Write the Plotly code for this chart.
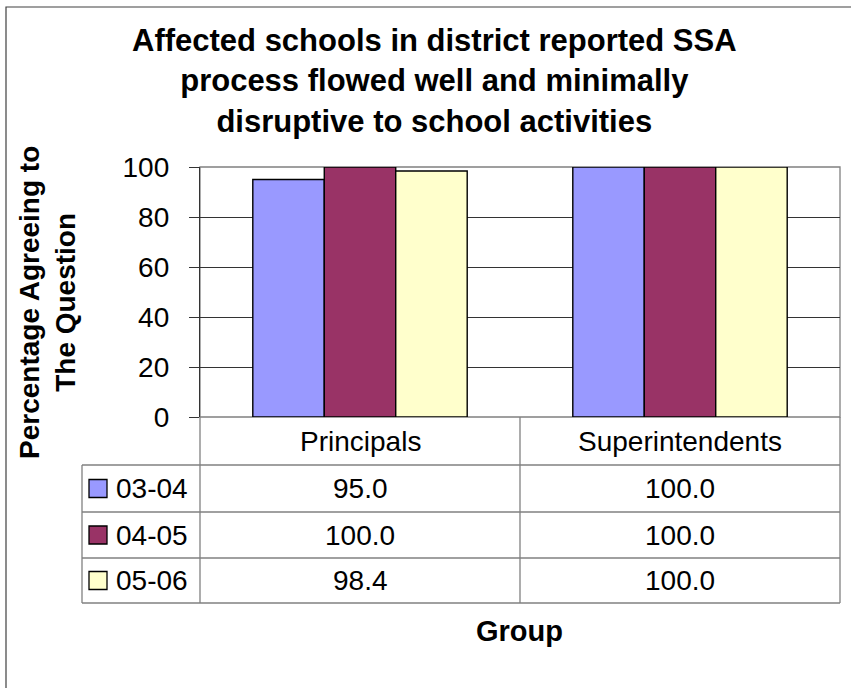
import plotly.graph_objects as go

# ---- data ----
categories = ["Principals", "Superintendents"]
series_names = ["03-04", "04-05", "05-06"]
values_0304 = [95.0, 100.0]
values_0405 = [100.0, 100.0]
values_0506 = [98.4, 100.0]
series_colors = ["#9999FF", "#993366", "#FFFFCC"]
y_ticks = [0, 20, 40, 60, 80, 100]

title_text = ("Affected schools in district reported SSA<br>"
              "process flowed well and minimally<br>"
              "disruptive to school activities")
y_title = "Percentage Agreeing to<br>The Question"
x_title = "Group"

W, H = 851, 688
L, R, T, B = 200, 840, 167, 417  # plot area in pixels
FONT = "Liberation Sans, Arial, sans-serif"
FS = 28


def px(xp):
    return (xp - L) / (R - L)


def py(yp):
    return (B - yp) / (B - T)


all_values = [values_0304, values_0405, values_0506]

fig = go.Figure()
for name, vals, col in zip(series_names, all_values, series_colors):
    fig.add_trace(go.Bar(
        x=categories, y=vals, name=name,
        marker=dict(color=col, line=dict(color="black", width=1.4)),
        showlegend=False,
    ))

shapes = []
annotations = []

# outer chart border
shapes.append(dict(type="rect", xref="paper", yref="paper",
                   x0=px(6), x1=px(870), y0=py(700), y1=py(7),
                   line=dict(color="#404040", width=1.2), layer="below"))
# plot area border (top/right gray)
shapes.append(dict(type="rect", xref="paper", yref="paper",
                   x0=0, x1=1, y0=0, y1=1,
                   line=dict(color="#808080", width=1.3), layer="below"))

# table
row_edges = [417, 465, 512, 558, 603]
grey = "#808080"
for ye in row_edges[1:]:
    shapes.append(dict(type="line", xref="paper", yref="paper",
                       x0=px(82), x1=1, y0=py(ye), y1=py(ye),
                       line=dict(color=grey, width=1.3)))
shapes.append(dict(type="line", xref="paper", yref="paper",
                   x0=px(82), x1=px(82), y0=py(row_edges[1]), y1=py(row_edges[-1]),
                   line=dict(color=grey, width=1.3)))
shapes.append(dict(type="line", xref="paper", yref="paper",
                   x0=0, x1=0, y0=py(row_edges[0]), y1=py(row_edges[-1]),
                   line=dict(color=grey, width=1.3)))
shapes.append(dict(type="line", xref="x", yref="paper",
                   x0=0.5, x1=0.5, y0=py(row_edges[0]), y1=py(row_edges[-1]),
                   line=dict(color=grey, width=1.3)))
shapes.append(dict(type="line", xref="paper", yref="paper",
                   x0=1, x1=1, y0=py(row_edges[0]), y1=py(row_edges[-1]),
                   line=dict(color=grey, width=1.3)))

# header: category names
hy = (row_edges[0] + row_edges[1]) / 2
for c in categories:
    annotations.append(dict(x=c, y=py(hy), xref="x", yref="paper",
                            text=c, showarrow=False,
                            font=dict(family=FONT, size=FS, color="black"),
                            xanchor="center", yanchor="middle"))

# data rows
for i, (name, vals, col) in enumerate(zip(series_names, all_values, series_colors)):
    cy = (row_edges[i + 1] + row_edges[i + 2]) / 2
    shapes.append(dict(type="rect", xref="paper", yref="paper",
                       x0=px(89), x1=px(107), y0=py(cy + 9), y1=py(cy - 9),
                       fillcolor=col, line=dict(color="black", width=1.3)))
    annotations.append(dict(x=px(114), y=py(cy), xref="paper", yref="paper",
                            text=name, showarrow=False,
                            font=dict(family=FONT, size=FS, color="black"),
                            xanchor="left", yanchor="middle"))
    for c, v in zip(categories, vals):
        annotations.append(dict(x=c, y=py(cy), xref="x", yref="paper",
                                text=f"{v:.1f}", showarrow=False,
                                font=dict(family=FONT, size=FS, color="black"),
                                xanchor="center", yanchor="middle"))

# title
annotations.append(dict(x=px(434), y=py(81), xref="paper", yref="paper",
                        text="<b>" + title_text.replace("<br>", "</b><br><b>") + "</b>",
                        showarrow=False, align="center",
                        font=dict(family=FONT, size=31, color="black"),
                        xanchor="center", yanchor="middle"))
# y-axis title
annotations.append(dict(x=px(47), y=py(303), xref="paper", yref="paper",
                        text="<b>" + y_title.replace("<br>", "</b><br><b>") + "</b>",
                        showarrow=False, textangle=-90, align="center",
                        font=dict(family=FONT, size=28, color="black"),
                        xanchor="center", yanchor="middle"))
# x-axis title
annotations.append(dict(x=px(519), y=py(631), xref="paper", yref="paper",
                        text="<b>" + x_title + "</b>", showarrow=False,
                        font=dict(family=FONT, size=29, color="black"),
                        xanchor="center", yanchor="middle"))

fig.update_layout(
    width=W, height=H,
    margin=dict(l=L, r=W - R, t=T, b=H - B, pad=0),
    paper_bgcolor="white", plot_bgcolor="white",
    barmode="group", bargap=0.33, bargroupgap=0,
    font=dict(family=FONT, size=FS, color="black"),
    shapes=shapes, annotations=annotations,
    showlegend=False,
)
fig.update_xaxes(range=[-0.5, 1.5], showticklabels=False, showgrid=False,
                 zeroline=False, showline=False, ticks="")
fig.update_yaxes(range=[0, 100], tickvals=y_ticks, showgrid=True,
                 gridcolor="#333333", gridwidth=1, zeroline=False,
                 showline=True, linecolor="#333333", linewidth=1.3,
                 ticks="outside", ticklen=10, tickcolor="#333333", tickwidth=1.3,
                 ticklabelstandoff=14,
                 tickfont=dict(family=FONT, size=FS, color="black"))

fig.write_html("out.html", config={"displayModeBar": False},
               post_script="document.body.style.margin='0';document.body.style.padding='0';")
